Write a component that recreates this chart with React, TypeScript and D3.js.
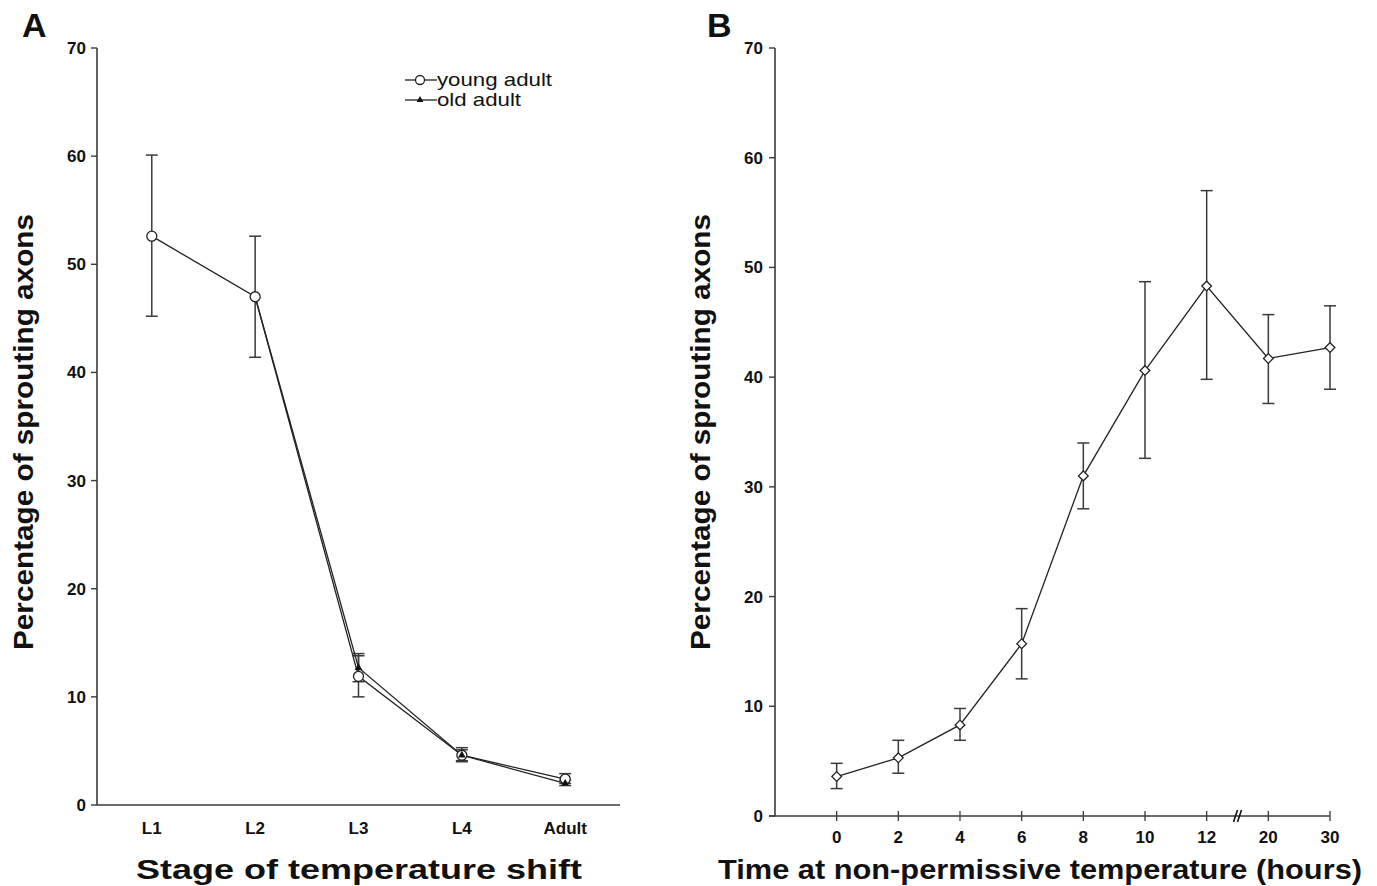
import React from "react";
import * as d3 from "d3";

// panel A
const stages = ["L1", "L2", "L3", "L4", "Adult"];
const youngMean = [52.6, 47.0, 11.9, 4.6, 2.4];
const youngLow = [45.2, 41.4, 10.0, 4.0, 2.0];
const youngHigh = [60.1, 52.6, 13.8, 5.3, 2.9];
// old adult joins the young-adult curve at L2 (no marker there)
const oldMean = [null, 47.0, 12.7, 4.6, 2.0];
const oldLow = [null, null, 11.4, 4.1, 1.8];
const oldHigh = [null, null, 14.0, 5.1, 2.3];
const oldMarker = [false, false, true, true, true];

// panel B
const hours = ["0", "2", "4", "6", "8", "10", "12", "20", "30"];
const timeMean = [3.6, 5.3, 8.3, 15.7, 31.0, 40.6, 48.3, 41.7, 42.7];
const timeLow = [2.5, 3.9, 6.9, 12.5, 28.0, 32.6, 39.8, 37.6, 38.9];
const timeHigh = [4.8, 6.9, 9.8, 18.9, 34.0, 48.7, 57.0, 45.7, 46.5];

const yTicks = [0, 10, 20, 30, 40, 50, 60, 70];
const font = "'Liberation Sans', Arial, Helvetica, sans-serif";
const ink = "#222";
const axisInk = "#3a3a3a";
const tickSize = 17;
const titleSize = 27;

const PanelA = () => {
  const x = d3.scalePoint<string>().domain(stages).range([97, 620]).padding(0.53);
  const y = d3.scaleLinear().domain([0, 70]).range([805, 48]);
  const line = d3
    .line<[number, number]>()
    .x((d) => d[0])
    .y((d) => d[1]);
  const youngPts: [number, number][] = stages.map((s, i) => [x(s)!, y(youngMean[i])]);
  const oldPts: [number, number][] = stages
    .map((s, i) => (oldMean[i] == null ? null : ([x(s)!, y(oldMean[i] as number)] as [number, number])))
    .filter((d): d is [number, number] => d !== null);
  const tri = d3.symbol().type(d3.symbolTriangle).size(26)()!;
  return (
    <g>
      <text x={22} y={37} fontSize={34} fontWeight="bold" fontFamily={font} fill="#111">A</text>
      {/* y axis */}
      <line x1={97} x2={97} y1={y(70)} y2={y(0)} stroke={axisInk} strokeWidth={1.6} />
      {yTicks.map((t) => (
        <g key={t}>
          <line x1={91} x2={97} y1={y(t)} y2={y(t)} stroke={axisInk} strokeWidth={1.4} />
          <text x={86} y={y(t) + 6} textAnchor="end" fontSize={tickSize} fontWeight="bold" fontFamily={font} fill="#111">{t}</text>
        </g>
      ))}
      {/* x axis */}
      <line x1={97} x2={620} y1={y(0)} y2={y(0)} stroke={axisInk} strokeWidth={1.6} />
      {stages.map((s) => (
        <text key={s} x={x(s)} y={834} textAnchor="middle" fontSize={tickSize} fontWeight="bold" fontFamily={font} fill="#111">{s}</text>
      ))}
      <text x={359} y={879} textAnchor="middle" fontSize={titleSize} fontWeight="bold" fontFamily={font} fill="#111" textLength={446} lengthAdjust="spacingAndGlyphs">Stage of temperature shift</text>
      <text transform={`translate(33,${432}) rotate(-90)`} textAnchor="middle" fontSize={titleSize} fontWeight="bold" fontFamily={font} fill="#111" textLength={436} lengthAdjust="spacingAndGlyphs">Percentage of sprouting axons</text>
      {/* error bars */}
      {stages.map((s, i) => (
        <g key={"ey" + s} stroke={axisInk} strokeWidth={1.5}>
          <line x1={x(s)} x2={x(s)} y1={y(youngLow[i])} y2={y(youngHigh[i])} />
          <line x1={x(s)! - 6} x2={x(s)! + 6} y1={y(youngLow[i])} y2={y(youngLow[i])} />
          <line x1={x(s)! - 6} x2={x(s)! + 6} y1={y(youngHigh[i])} y2={y(youngHigh[i])} />
        </g>
      ))}
      {stages.map((s, i) =>
        oldLow[i] == null ? null : (
          <g key={"eo" + s} stroke={axisInk} strokeWidth={1.5}>
            <line x1={x(s)} x2={x(s)} y1={y(oldLow[i] as number)} y2={y(oldHigh[i] as number)} />
            <line x1={x(s)! - 6} x2={x(s)! + 6} y1={y(oldLow[i] as number)} y2={y(oldLow[i] as number)} />
            <line x1={x(s)! - 6} x2={x(s)! + 6} y1={y(oldHigh[i] as number)} y2={y(oldHigh[i] as number)} />
          </g>
        )
      )}
      <path d={line(youngPts)!} fill="none" stroke={ink} strokeWidth={1.3} />
      <path d={line(oldPts)!} fill="none" stroke={ink} strokeWidth={1.3} />
      {youngPts.map((p, i) => (
        <circle key={"cy" + i} cx={p[0]} cy={p[1]} r={5} fill="#fff" stroke={ink} strokeWidth={1.3} />
      ))}
      {stages.map((s, i) =>
        oldMarker[i] ? <path key={"to" + s} d={tri} transform={`translate(${x(s)},${y(oldMean[i] as number)})`} fill="#111" /> : null
      )}
      {/* legend */}
      <g fontFamily={font} fontSize={19} fill="#111">
        <line x1={405} x2={437} y1={80} y2={80} stroke={ink} strokeWidth={1.3} />
        <circle cx={420} cy={80} r={4.5} fill="#fff" stroke={ink} strokeWidth={1.3} />
        <text x={437} y={86} textLength={115} lengthAdjust="spacingAndGlyphs">young adult</text>
        <line x1={405} x2={437} y1={100} y2={100} stroke={ink} strokeWidth={1.3} />
        <path d={d3.symbol().type(d3.symbolTriangle).size(20)()!} transform="translate(420,100)" fill="#111" />
        <text x={437} y={106} textLength={84} lengthAdjust="spacingAndGlyphs">old adult</text>
      </g>
    </g>
  );
};

const PanelB = () => {
  const xi = d3.scaleLinear().domain([-1, hours.length - 1]).range([775, 1330]);
  const y = d3.scaleLinear().domain([0, 70]).range([816, 48]);
  const pts: [number, number][] = hours.map((h, i) => [xi(i), y(timeMean[i])]);
  const line = d3.line();
  const diamond = d3.symbol().type(d3.symbolDiamond2).size(60)()!;
  const bx = (xi(6) + xi(7)) / 2 + 1;
  return (
    <g>
      <text x={707} y={37} fontSize={34} fontWeight="bold" fontFamily={font} fill="#111">B</text>
      <line x1={775} x2={775} y1={y(70)} y2={y(0)} stroke={axisInk} strokeWidth={1.6} />
      {yTicks.map((t) => (
        <g key={t}>
          <line x1={769} x2={775} y1={y(t)} y2={y(t)} stroke={axisInk} strokeWidth={1.4} />
          <text x={763} y={y(t) + 6} textAnchor="end" fontSize={tickSize} fontWeight="bold" fontFamily={font} fill="#111">{t}</text>
        </g>
      ))}
      <line x1={769} x2={1330} y1={y(0)} y2={y(0)} stroke={axisInk} strokeWidth={1.6} />
      {hours.map((h, i) => (
        <g key={h}>
          <line x1={xi(i)} x2={xi(i)} y1={y(0) - 5} y2={y(0) + 5} stroke={axisInk} strokeWidth={1.3} />
          <text x={xi(i)} y={843} textAnchor="middle" fontSize={tickSize} fontWeight="bold" fontFamily={font} fill="#111">{h}</text>
        </g>
      ))}
      {/* axis break */}
      <g stroke="#111" strokeWidth={1.6}>
        <line x1={bx - 5} x2={bx - 1} y1={y(0) + 6} y2={y(0) - 6} />
        <line x1={bx - 1} x2={bx + 3} y1={y(0) + 6} y2={y(0) - 6} />
      </g>
      <text x={1040} y={879} textAnchor="middle" fontSize={titleSize} fontWeight="bold" fontFamily={font} fill="#111" textLength={644} lengthAdjust="spacingAndGlyphs">Time at non-permissive temperature (hours)</text>
      <text transform={`translate(710,${432}) rotate(-90)`} textAnchor="middle" fontSize={titleSize} fontWeight="bold" fontFamily={font} fill="#111" textLength={436} lengthAdjust="spacingAndGlyphs">Percentage of sprouting axons</text>
      {hours.map((h, i) => (
        <g key={"e" + h} stroke={axisInk} strokeWidth={1.5}>
          <line x1={xi(i)} x2={xi(i)} y1={y(timeLow[i])} y2={y(timeHigh[i])} />
          <line x1={xi(i) - 6} x2={xi(i) + 6} y1={y(timeLow[i])} y2={y(timeLow[i])} />
          <line x1={xi(i) - 6} x2={xi(i) + 6} y1={y(timeHigh[i])} y2={y(timeHigh[i])} />
        </g>
      ))}
      <path d={line(pts)!} fill="none" stroke={ink} strokeWidth={1.3} />
      {pts.map((p, i) => (
        <path key={"d" + i} d={diamond} transform={`translate(${p[0]},${p[1]})`} fill="#fff" stroke={ink} strokeWidth={1.3} />
      ))}
    </g>
  );
};

export default function App() {
  return (
    <div style={{ position: "fixed", left: 0, top: 0 }}>
      <svg width={1377} height={886} style={{ display: "block", background: "#fff" }}>
        <PanelA />
        <PanelB />
      </svg>
    </div>
  );
}
